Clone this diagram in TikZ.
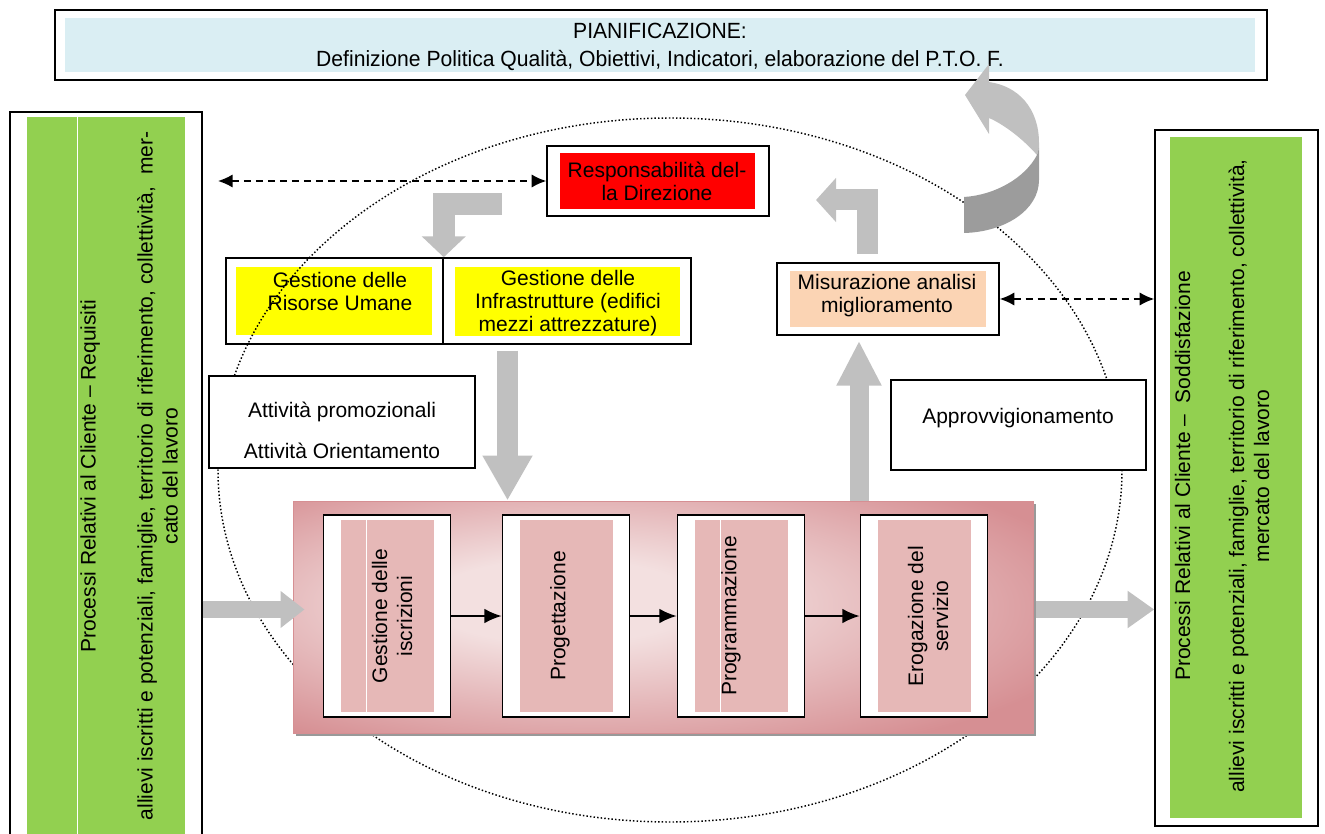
\documentclass[tikz,border=0pt]{standalone}
\usepackage{fontspec}
\setmainfont{Liberation Sans}
\newfontfamily\planfont{Liberation Sans}[FakeStretch=0.96]
\usetikzlibrary{arrows.meta,shadows}

\definecolor{planblue}{HTML}{DAEEF3}
\definecolor{cligreen}{HTML}{92D050}
\definecolor{dirred}{HTML}{FF0000}
\definecolor{gesyellow}{HTML}{FFFF00}
\definecolor{mispeach}{HTML}{FBD4B4}
\definecolor{arrgray}{HTML}{C0C0C0}
\definecolor{arrdark}{HTML}{9C9C9C}
\definecolor{procin}{HTML}{F3E0E0}
\definecolor{procout}{HTML}{D68F93}
\definecolor{procfill}{HTML}{E6B8B7}
\pgfdeclareradialshading{procshade}{\pgfpoint{-8bp}{4bp}}{color(0bp)=(procin); color(9bp)=(procin); color(34bp)=(procout); color(60bp)=(procout)}

\begin{document}
\begin{tikzpicture}[x=0.75pt,y=-0.75pt,
  sz/.style 2 args={minimum width=#1*0.75pt,minimum height=#2*0.75pt},
  boxframe/.style={draw,line width=1.1pt,fill=white,inner sep=0pt},
  cell/.style={inner sep=0pt,fill=#1},
  txt/.style={inner sep=0pt,align=center,font=\fontsize{15.75}{17.25}\selectfont},
  rot/.style={txt,rotate=90,font=\fontsize{15.75}{18.75}\selectfont},
  procbox/.style={draw=procout,line width=0.75pt,inner sep=0pt,shading=procshade,drop shadow={shadow xshift=2.25pt,shadow yshift=-2.25pt,fill=black!40,opacity=1}},
  stagebox/.style={boxframe,sz={127}{202}},
  stagefill/.style={cell=procfill,sz={93}{192}},
  arr/.style={line width=1.6pt,-{Latex[length=13pt,width=11pt]}},
  dasharr/.style={line width=1.3pt,dash pattern=on 5.5pt off 3.5pt,{Latex[length=11pt,width=10pt]}-{Latex[length=11pt,width=10pt]}},
  blk/.style={draw=arrgray,line join=miter}]
\useasboundingbox (0,0) rectangle (1325,834);

% pianificazione
\node[boxframe,line width=1.5pt,sz={1212}{70}] (plan) at (661,45) {};
\node[cell=planblue,sz={1190}{54}] (planin) at (660,45) {};
\node[align=center,inner sep=0pt,font=\planfont\fontsize{16.5}{20.5}\selectfont] (plantxt) at (660,47) {PIANIFICAZIONE:\\Definizione Politica Qualità, Obiettivi, Indicatori, elaborazione del P.T.O. F.};

% clienti
\node[boxframe,sz={192}{738}] (lbox) at (106,481) {};
\node[cell=cligreen,sz={158}{733}] (lboxin) at (106,483.5) {};
\draw[white,line width=0.75pt] (77,117) -- (77,850);
\node[rot] (lboxtxt) at (129,476) {Processi Relativi al Cliente -- Requisiti\\[24pt]allievi iscritti e potenziali, famiglie, territorio di riferimento, collettività, \ mer-\\cato del lavoro};
\node[boxframe,sz={163}{696}] (rbox) at (1236.5,478) {};
\node[cell=cligreen,sz={132}{681}] (rboxin) at (1236,477.5) {};
\node[rot] (rboxtxt) at (1222,476) {Processi Relativi al Cliente -- \ Soddisfazione\\[21.75pt]allievi iscritti e potenziali, famiglie, territorio di riferimento, collettività,\\mercato del lavoro};

% direzione e risorse
\node[boxframe,sz={222}{70}] (resp) at (658,181) {};
\node[cell=dirred,sz={195}{56}] (respin) at (657.5,181) {};
\node[txt] (resptxt) at (657,181) {Responsabilità del-\\la Direzione};
\node[boxframe,sz={217}{86}] (gru) at (334.5,301) {};
\node[boxframe,sz={248}{86}] (gif) at (567,301) {};
\node[cell=gesyellow,sz={196}{68}] (gruin) at (334,301) {};
\node[cell=gesyellow,sz={225}{69}] (gifin) at (567.5,301.5) {};
\node[txt] (grutxt) at (340,291.5) {Gestione delle\\Risorse Umane};
\node[txt] (giftxt) at (568,303) {Gestione delle\\Infrastrutture (edifici\\mezzi attrezzature)};

\coordinate (ctr) at (670,470);
\draw[line width=1.1pt,dash pattern=on 1.1pt off 1.6pt] (ctr) ellipse [x radius=452,y radius=352];

\node[boxframe,sz={266}{92}] (att) at (342,422) {};
\node[txt] (atttxt) at (342,430) {Attività promozionali\\[13.5pt]Attività Orientamento};
\node[boxframe,sz={222}{72}] (mis) at (888,299) {};
\node[cell=mispeach,sz={196}{56}] (misin) at (888,299) {};
\node[txt] (mistxt) at (887,296) {Misurazione analisi\\miglioramento};
\node[boxframe,sz={255}{90}] (appr) at (1018.5,425) {};
\node[txt] (apprtxt) at (1018,418) {Approvvigionamento};

% processi
\node[procbox,sz={740}{232}] (proc) at (663,617) {};
\node[stagebox] (iscr) at (387,616) {};
\node[stagebox] (prog) at (566,616) {};
\node[stagebox] (progr) at (741,616) {};
\node[stagebox] (erog) at (924,616) {};
\node[stagefill] (iscrin) at (iscr) {};
\node[stagefill] (progin) at (prog) {};
\node[stagefill] (progrin) at (progr) {};
\node[stagefill] (erogin) at (erog) {};
\draw[white,line width=0.75pt] (366,520) -- (366,712) (720,520) -- (720,712);
\node[rot] (iscrtxt) at (392,616) {Gestione delle\\iscrizioni};
\node[rot] (progtxt) at (560,616) {Progettazione};
\node[rot] (progrtxt) at (731,616) {Programmazione};
\node[rot] (erogtxt) at (928,616) {Erogazione del\\servizio};
\draw[arr] (iscr.east) -- (prog.west);
\draw[arr] (prog.east) -- (progr.west);
\draw[arr] (progr.east) -- (erog.west);

% frecce
\coordinate (dl) at (218,181);
\draw[dasharr] (dl) -- (resp.west);
\draw[dasharr] (mis.east) -- (mis.east -| rbox.west);
\coordinate (l1s) at (501.7,204.5);
\draw[blk,line width=16.5pt,-{Triangle[length=15.75pt,width=32.25pt]}] (l1s) -| (gru.north east);
\coordinate (l2s) at (867,254);
\coordinate (l2e) at (816,200);
\draw[blk,line width=15.75pt,-{Triangle[length=15pt,width=32.25pt]}] (l2s) |- (l2e);
\coordinate (dn) at (507.5,0);
\draw[blk,line width=15.75pt,shorten <=4.5pt,-{Triangle[length=33.75pt,width=35.25pt]}] (dn |- gif.south) -- (dn |- proc.north);
\coordinate (up) at (859,0);
\draw[blk,line width=14.25pt,shorten >=3.75pt,-{Triangle[length=33.75pt,width=31.5pt]}] (up |- proc.north) -- (up |- mis.south);
\coordinate (mid) at (0,609.5);
\draw[blk,line width=13.2pt,shorten >=-9pt,-{Triangle[length=18pt,width=26.7pt]}] (lbox.east |- mid) -- (proc.west |- mid);
\draw[blk,line width=13.2pt,shorten <=1.5pt,-{Triangle[length=20pt,width=26.7pt]}] (proc.east |- mid) -- (rbox.west |- mid);

% freccia curva
\fill[arrgray] (989,64) -- (965,95) -- (989,134) -- (989,118) .. controls (1003,124) and (1022,138) .. (1037,155) -- (1039,148) -- (1039,143) .. controls (1039,108) and (1018,86) .. (989,82) -- cycle;
\fill[arrdark] (964,197) .. controls (995,195) and (1025,178) .. (1037,155) -- (1039,148) -- (1039,180) .. controls (1039,210) and (1005,232) .. (964,233) -- cycle;
\end{tikzpicture}
\end{document}
